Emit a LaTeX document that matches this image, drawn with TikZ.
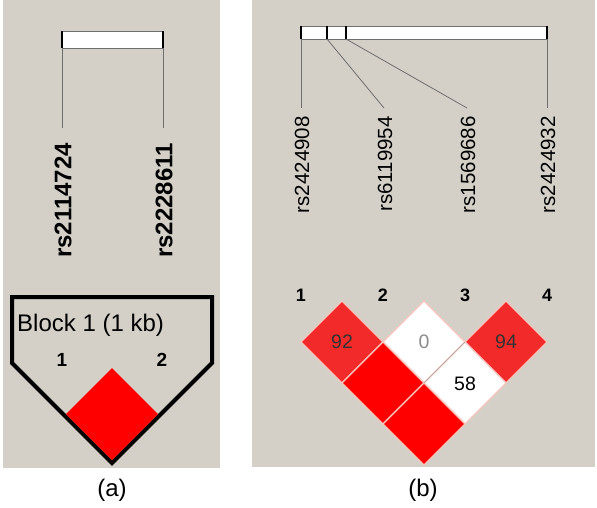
\documentclass[tikz,border=0pt]{standalone}
\usepackage{fontspec}
\setmainfont{Liberation Sans}
\definecolor{panelgray}{HTML}{D4D0C8}
\definecolor{ldred}{HTML}{FF0000}
\definecolor{ldlight}{HTML}{F22A2A}
\definecolor{gapcol}{HTML}{F6C6BE}
\definecolor{linegray}{HTML}{6E6E6E}
\tikzset{
  panel/.style={fill=panelgray, draw=none},
  barbox/.style={fill=white, draw=linegray, line width=0.8pt},
  tickline/.style={draw=black, line width=1.4pt},
  leadline/.style={draw=linegray, line width=0.8pt},
  snpbold/.style={rotate=90, anchor=east, inner sep=0pt, font=\fontsize{24}{24}\selectfont\bfseries},
  snpreg/.style={rotate=90, anchor=east, inner sep=0pt, font=\fontsize{20.5}{20.5}\selectfont},
  idx/.style={inner sep=0pt, font=\fontsize{18}{18}\selectfont\bfseries},
  ldcell/.style={draw=gapcol, line width=1.2pt},
  ldnum/.style={inner sep=0pt, font=\fontsize{19.5}{19.5}\selectfont},
  caption/.style={inner sep=0pt, font=\fontsize{24}{24}\selectfont}
}
\begin{document}
\begin{tikzpicture}[x=1pt, y=-1pt]
\useasboundingbox (0,0) rectangle (597,508);
\fill[white] (0,0) rectangle (597,508);
% panels
\path[panel] (3,0) rectangle (220,468);
\path[panel] (252,0) rectangle (595,467);

% ---------- panel (a) ----------
\path[barbox] (62,31) rectangle (163,48);
\coordinate (a1t) at (62,48);
\coordinate (a2t) at (163,48);
\draw[tickline] (62,31) -- (a1t);
\draw[tickline] (163,31) -- (a2t);
\coordinate (a1b) at (62,128);
\coordinate (a2b) at (163,128);
\draw[leadline] (a1t) -- (a1b);
\draw[leadline] (a2t) -- (a2b);
\node[snpbold] (la1) at (63,143) {rs2114724};
\node[snpbold] (la2) at (164,143) {rs2228611};

% block outline
\draw[line width=4pt, line join=miter] (12,297) -- (212,297) -- (212,363) -- (112,463) -- (12,363) -- cycle;
\node[inner sep=0pt, anchor=west, font=\fontsize{24}{24}\selectfont] (blk) at (17,325) {Block 1 (1 kb)};
\node[idx, font=\fontsize{19}{19}\selectfont\bfseries] (an1) at (62,360) {1};
\node[idx, font=\fontsize{19}{19}\selectfont\bfseries] (an2) at (162,360) {2};
\fill[ldred] (112,368) -- (158,414) -- (112,460) -- (66,414) -- cycle;
\node[caption] (capa) at (112,490) {(a)};

% ---------- panel (b) ----------
\path[barbox] (301,26) rectangle (547,39);
\coordinate (b1t) at (301,39);
\coordinate (b2t) at (327,39);
\coordinate (b3t) at (346,39);
\coordinate (b4t) at (547,39);
\draw[tickline] (301,26) -- (b1t);
\draw[tickline] (327,26) -- (b2t);
\draw[tickline] (346,26) -- (b3t);
\draw[tickline] (547,26) -- (b4t);
\coordinate (b1b) at (301,108);
\coordinate (b2b) at (384,108);
\coordinate (b3b) at (467,108);
\coordinate (b4b) at (547,108);
\draw[leadline] (b1t) -- (b1b);
\draw[leadline] (b2t) -- (b2b);
\draw[leadline] (b3t) -- (b3b);
\draw[leadline] (b4t) -- (b4b);
\node[snpreg] (lb1) at (302,116) {rs2424908};
\node[snpreg] (lb2) at (385,116) {rs6119954};
\node[snpreg] (lb3) at (468,116) {rs1569686};
\node[snpreg] (lb4) at (548,116) {rs2424932};

\node[idx] (bn1) at (301,295) {1};
\node[idx] (bn2) at (383,295) {2};
\node[idx] (bn3) at (465,295) {3};
\node[idx] (bn4) at (547,295) {4};

% LD cells (half diagonal 41)
\path[ldcell, fill=ldlight] (342,301) -- (383,342) -- (342,383) -- (301,342) -- cycle;
\path[ldcell, fill=white]   (424,301) -- (465,342) -- (424,383) -- (383,342) -- cycle;
\path[ldcell, fill=ldlight] (506,301) -- (547,342) -- (506,383) -- (465,342) -- cycle;
\path[ldcell, fill=ldred]   (383,342) -- (424,383) -- (383,424) -- (342,383) -- cycle;
\path[ldcell, fill=white]   (465,342) -- (506,383) -- (465,424) -- (424,383) -- cycle;
\path[ldcell, fill=ldred]   (424,383) -- (465,424) -- (424,465) -- (383,424) -- cycle;
\draw[draw=panelgray!80!black, line width=0.6pt] (424,383) -- (465,342);
\node[ldnum, text=black!80] (v12) at (342,342) {92};
\node[ldnum, text=black!45] (v23) at (424,342) {0};
\node[ldnum, text=black!80] (v34) at (506,342) {94};
\node[ldnum] (v24) at (465,384) {58};
\node[caption] (capb) at (423,490) {(b)};
\end{tikzpicture}
\end{document}
